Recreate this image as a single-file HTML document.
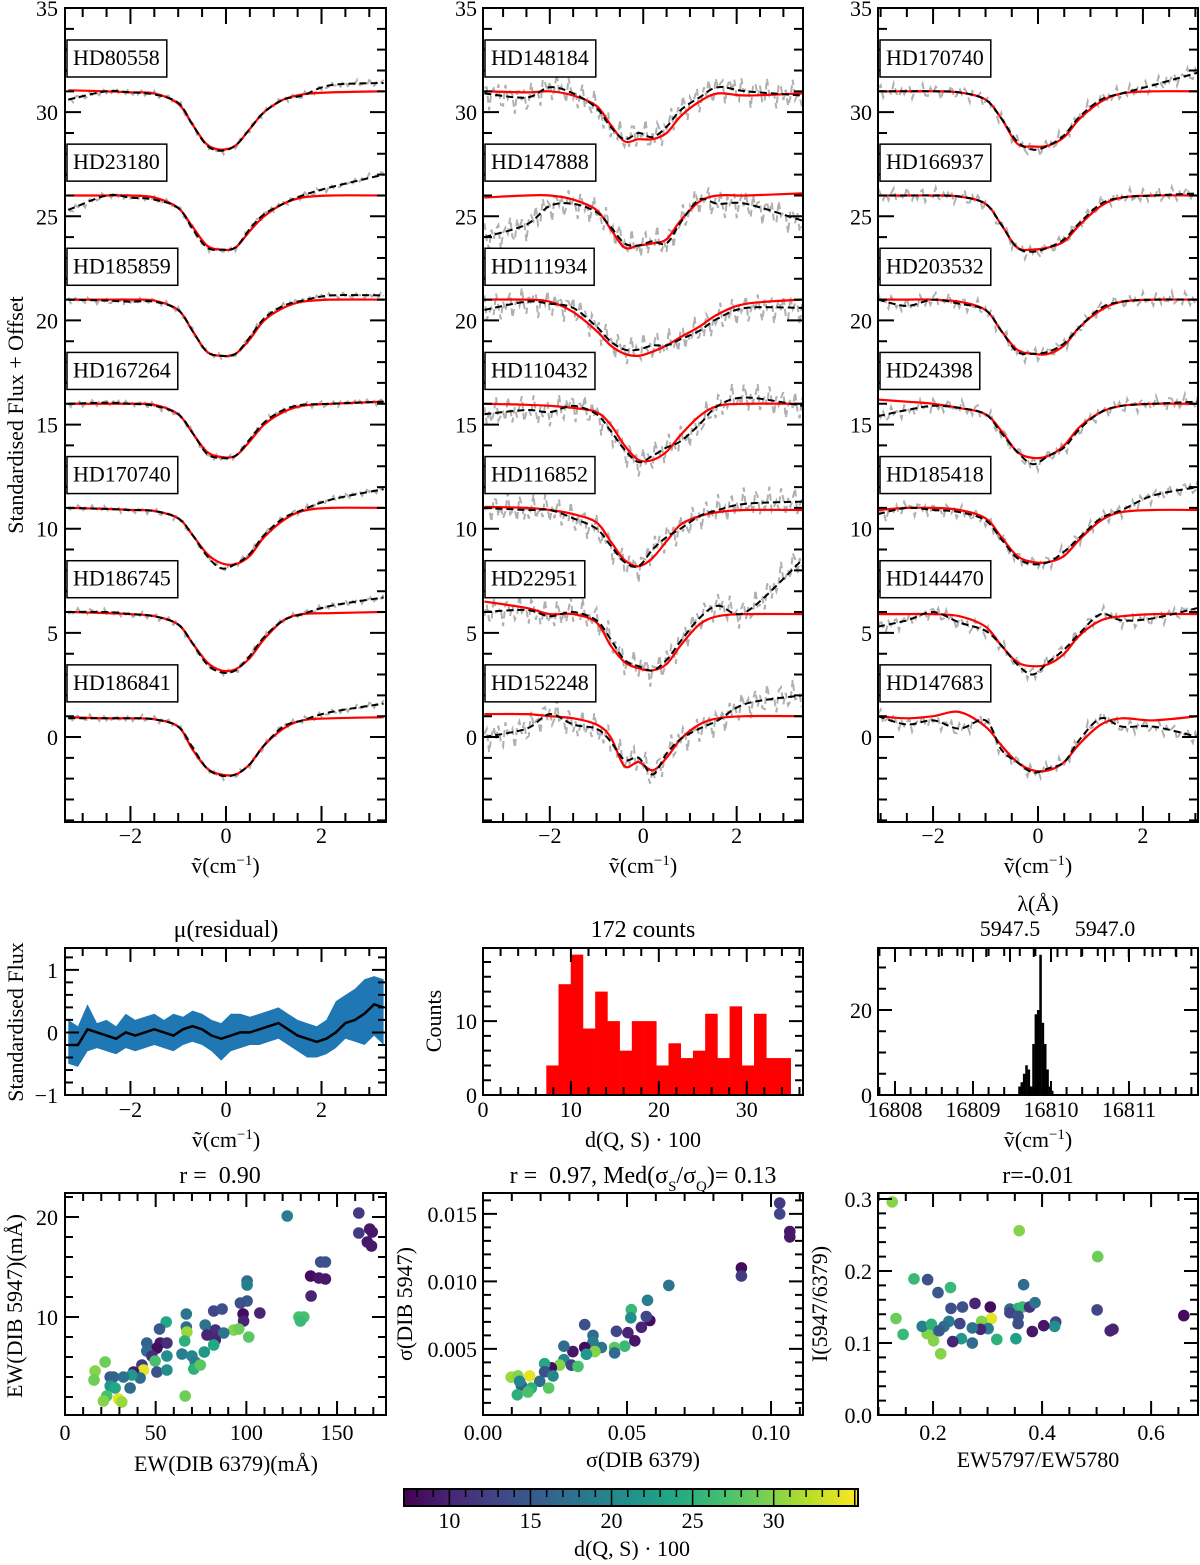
<!DOCTYPE html>
<html><head><meta charset="utf-8">
<style>
html,body{margin:0;padding:0;background:#fff;}
svg text{font-family:"Liberation Serif",serif;fill:#000;white-space:pre;}
</style></head>
<body>
<svg id="fig" xmlns="http://www.w3.org/2000/svg" width="1200" height="1560" viewBox="0 0 1200 1560">
<rect x="0" y="0" width="1200" height="1560" fill="#fff"/>
<defs>
<clipPath id="cp0"><rect x="65" y="8" width="321" height="814"/></clipPath>
<clipPath id="cp1"><rect x="483" y="8" width="320" height="814"/></clipPath>
<clipPath id="cp2"><rect x="878" y="8" width="320" height="814"/></clipPath>
<clipPath id="cpr"><rect x="65" y="948" width="321" height="147"/></clipPath>
</defs>
</svg>
<script>
// ---------- DATA ----------
const starNames0 = ["HD80558","HD23180","HD185859","HD167264","HD170740","HD186745","HD186841"];
const starNames1 = ["HD148184","HD147888","HD111934","HD110432","HD116852","HD22951","HD152248"];
const starNames2 = ["HD170740","HD166937","HD203532","HD24398","HD185418","HD144470","HD147683"];
const offsets = [30,25,20,15,10,5,0];
const xSamples0 = [-3.3,-2.5,-2,-1.5,-1,-0.7,-0.4,-0.1,0.2,0.5,0.8,1.2,1.6,2.2,3.3];
const xSamples1 = [-3.4,-2.5,-2,-1.5,-1,-0.7,-0.4,-0.1,0.2,0.5,0.8,1.2,1.6,2.2,3.4];
const xSamples2 = [-3.05,-2.5,-2,-1.5,-1,-0.7,-0.4,-0.1,0.2,0.5,0.8,1.2,1.6,2.2,3.05];
const fit0 = [
[1.05,1.0,0.95,0.9,0.4,-0.6,-1.55,-1.8,-1.6,-0.8,0,0.6,0.85,0.95,1.0],
[1.0,1.0,1.0,0.9,0.4,-0.5,-1.4,-1.6,-1.5,-0.7,0,0.6,0.9,1.0,1.0],
[1,1,1,0.95,0.5,-0.5,-1.5,-1.7,-1.6,-0.9,0,0.6,0.9,1,1.0],
[1,1,1,0.95,0.5,-0.4,-1.3,-1.55,-1.5,-0.8,0,0.6,0.9,1,1.1],
[1,0.95,0.9,0.85,0.5,-0.3,-1.2,-1.65,-1.7,-1.3,-0.4,0.4,0.85,1.0,1.0],
[1,0.95,0.9,0.8,0.4,-0.5,-1.4,-1.8,-1.75,-1.2,-0.3,0.6,0.9,0.95,1.0],
[0.95,0.9,0.9,0.85,0.5,-0.6,-1.5,-1.8,-1.8,-1.3,-0.4,0.4,0.8,0.9,0.95]];
const obs0 = [
[0.6,1.0,0.95,0.85,0.45,-0.6,-1.6,-1.85,-1.6,-0.8,0,0.6,0.8,1.3,1.4],
[0.3,1.0,0.9,0.8,0.4,-0.6,-1.5,-1.6,-1.5,-0.6,0.1,0.6,1.0,1.4,2.0],
[1,0.95,0.9,0.9,0.5,-0.5,-1.5,-1.7,-1.6,-0.8,0.1,0.7,0.95,1.2,1.2],
[1,1.05,1.0,0.9,0.5,-0.4,-1.4,-1.6,-1.5,-0.7,0.1,0.7,0.95,1,1.1],
[1,0.95,0.9,0.85,0.5,-0.3,-1.3,-1.9,-1.7,-1.2,-0.3,0.5,0.9,1.4,1.9],
[1,1.0,0.9,0.8,0.4,-0.5,-1.5,-1.9,-1.8,-1.1,-0.2,0.6,0.9,1.3,1.7],
[0.9,0.9,0.9,0.85,0.5,-0.5,-1.5,-1.85,-1.8,-1.3,-0.4,0.5,0.8,1.2,1.6]];
const fit1 = [
[1.0,0.95,1.0,0.8,0.3,-0.6,-1.4,-1.3,-1.3,-1.0,-0.2,0.5,0.9,0.8,0.9],
[0.9,1.0,1.0,0.8,0.3,-0.6,-1.5,-1.4,-1.3,-1.1,-0.2,0.7,1.0,1.0,1.1],
[1.0,1.0,0.9,0.4,-0.5,-1.2,-1.6,-1.7,-1.5,-1.2,-0.8,-0.3,0.3,0.8,1.0],
[1.0,0.95,0.9,0.8,0.6,0.0,-1.0,-1.7,-1.7,-1.3,-0.5,0.4,0.9,1.0,1.0],
[1.05,1.0,0.9,0.7,0.3,-0.6,-1.5,-1.8,-1.4,-0.6,0.2,0.6,0.8,0.9,0.9],
[1.5,1.2,0.9,0.9,0.5,-0.6,-1.4,-1.7,-1.8,-1.5,-0.6,0.4,0.8,0.9,0.9],
[1.1,1.1,1.0,0.9,0.6,0.0,-1.4,-1.2,-1.6,-1.0,-0.1,0.6,0.9,1.0,1.0]];
const obs1 = [
[0.9,0.7,1.2,0.9,0.2,-0.7,-1.3,-1.0,-1.2,-0.7,0.1,0.7,1.2,1.0,0.8],
[-1.0,-0.4,0.5,0.6,0.2,-0.5,-1.3,-1.4,-1.2,-1.3,-0.3,0.8,0.6,0.6,-0.2],
[0.5,0.9,0.8,0.6,-0.3,-1.0,-1.4,-1.4,-1.2,-1.2,-0.9,-0.5,0.1,0.6,0.6],
[0.5,0.7,0.6,0.9,0.5,-0.3,-1.2,-1.8,-1.5,-1.1,-0.8,0.0,0.9,1.3,0.9],
[1.0,0.9,0.9,0.5,0.0,-0.8,-1.6,-1.8,-1.0,-0.4,0.0,0.6,0.9,1.2,1.3],
[1.0,1.1,0.8,1.0,0.6,-0.3,-1.3,-1.6,-1.8,-1.3,-0.4,0.7,1.3,1.0,3.5],
[0.0,0.4,1.1,0.6,0.4,-0.2,-1.1,-1.0,-1.8,-0.8,-0.1,0.4,0.8,1.6,2.0]];
const fit2 = [
[1,1,1,0.95,0.6,-0.3,-1.5,-1.65,-1.6,-1.2,-0.3,0.5,0.9,1.0,1.0],
[1,1,1,0.95,0.6,-0.4,-1.5,-1.6,-1.5,-1.2,-0.4,0.5,0.9,1.0,1.0],
[1,1,1,0.9,0.5,-0.5,-1.4,-1.6,-1.6,-1.2,-0.3,0.5,0.9,1.0,1.0],
[1.2,1.1,1.0,0.8,0.5,-0.3,-1.3,-1.6,-1.5,-1.0,-0.1,0.6,0.9,1.0,1.0],
[0.9,1.0,1.0,0.9,0.5,-0.4,-1.3,-1.6,-1.6,-1.3,-0.5,0.4,0.8,0.9,0.9],
[0.9,0.9,0.9,0.8,0.3,-0.6,-1.4,-1.6,-1.5,-1.0,-0.1,0.6,0.8,0.9,0.9],
[1.0,0.9,1.0,1.2,0.5,-0.4,-1.2,-1.6,-1.6,-1.2,-0.3,0.6,0.9,0.8,1.0]];
const obs2 = [
[1,1,1,0.95,0.6,-0.3,-1.4,-1.8,-1.6,-1.1,-0.2,0.6,0.9,1.3,1.9],
[1,1,1,0.95,0.6,-0.4,-1.5,-1.7,-1.5,-1.1,-0.3,0.6,0.9,1.0,1.1],
[1,0.7,1,0.8,0.5,-0.5,-1.5,-1.6,-1.5,-1.1,-0.3,0.6,0.9,1.0,1.0],
[0.4,0.7,0.9,0.8,0.5,-0.4,-1.3,-1.9,-1.5,-1.1,-0.2,0.6,0.9,1.0,1.1],
[0.7,1.0,0.9,0.8,0.4,-0.5,-1.4,-1.7,-1.6,-1.1,-0.4,0.5,0.9,1.6,2.0],
[0.3,0.6,1.0,0.5,0.1,-0.6,-1.5,-2.0,-1.4,-0.8,0.0,0.9,0.6,0.7,1.2],
[1.0,0.6,0.8,0.4,0.8,-0.6,-1.2,-1.7,-1.5,-1.2,-0.1,0.9,0.5,0.5,0.0]];

const resX = [-3.3,-3.1,-2.9,-2.7,-2.5,-2.3,-2.1,-1.9,-1.7,-1.5,-1.3,-1.1,-0.9,-0.7,-0.5,-0.3,-0.1,0.1,0.3,0.5,0.7,0.9,1.1,1.3,1.5,1.7,1.9,2.1,2.3,2.5,2.7,2.9,3.1,3.3];
const resMean = [-0.2,-0.2,0.05,0,-0.05,-0.1,0,-0.05,0,0.05,0,-0.05,0.05,0.1,0.05,-0.05,-0.1,-0.05,0,0,0.05,0.1,0.15,0.05,-0.05,-0.1,-0.15,-0.1,0,0.15,0.2,0.3,0.45,0.4];
const resUpper = [0.2,0.1,0.45,0.15,0.2,0.1,0.3,0.2,0.25,0.3,0.2,0.3,0.25,0.35,0.3,0.2,0.15,0.3,0.3,0.25,0.3,0.35,0.4,0.3,0.2,0.15,0.1,0.2,0.5,0.6,0.7,0.85,0.9,0.85];
const resLower = [-0.5,-0.55,-0.3,-0.25,-0.3,-0.35,-0.25,-0.3,-0.25,-0.2,-0.25,-0.3,-0.2,-0.15,-0.2,-0.3,-0.45,-0.3,-0.25,-0.2,-0.2,-0.15,-0.1,-0.2,-0.3,-0.4,-0.4,-0.35,-0.25,-0.1,-0.15,-0.2,-0.05,-0.2];

const histStart = 7.2, histWidth = 1.39;
const histCounts = [4,15,19,9,14,10,6,10,10,4,7,5,6,11,5,12,4,11,5,5];
const peakStart = 16809.58, peakWidth = 0.03;
const peakCounts = [2,3,5,7,6,2,12,19,20,33,17,12,6,2,1];

const ewX = [122.5,162,162,168,169.4,166.7,169,141,143.6,135.4,140,143.6,135.7,129,131.7,129.8,100.4,100.4,100.4,96.7,98.2,98.5,107.4,82,86.6,101.3,93,95.8,77.3,82.9,87.5,82.9,82,78.3,66.9,66.9,67.2,66,64.5,70,71.8,71,74.6,76.8,66.3,55.8,52.1,45.1,52.5,56.2,50.7,45.1,47.9,56.2,49.7,42.4,50.7,56.2,43.3,37.8,41.4,35.9,36.8,32.2,24.9,26.7,24.9,27.6,22.1,16.6,16,23,21.2,29.5,31.3];
const ewY = [20.1,20.4,18.4,18.8,18.5,17.5,17.1,15.5,15.5,14.1,13.9,13.8,12.1,10,10,9.6,13.6,13.2,11.6,11.4,10.3,9.6,10.4,10.6,10.8,8.0,8.7,8.8,9.2,8.7,8.4,7.7,7.2,8.2,10.3,9.0,8.5,7.6,6.3,6.1,5.5,4.8,5.2,6.5,2.1,9.5,8.8,7.4,7.4,7.4,6.9,6.6,6.1,6.1,5.6,5.2,4.5,4.7,4.7,4.5,3.9,2.9,4.2,4.0,4.0,4.0,3.1,2.9,5.5,4.6,3.7,2.1,1.6,1.8,1.5];
const ewC = [19,12,12,9,9,9,9,14,14,8,9,9,10,27,27,26,17,19,15,14,8,10,10,13,14,28,30,29,18,11,18,10,24,10,18,17,31,25,19,20,19,25,28,22,29,24,15,16,9,11,8,17,11,21,27,12,14,21,34,9,17,17,22,18,15,16,22,24,29,30,29,27,30,34,31];

const sgX = [0.1030,0.1030,0.1065,0.1065,0.0897,0.0897,0.0645,0.0571,0.0515,0.0513,0.0579,0.0567,0.0550,0.0463,0.0503,0.0527,0.0492,0.0457,0.0457,0.0353,0.0382,0.0382,0.0411,0.0353,0.0388,0.0359,0.0312,0.0281,0.0281,0.0307,0.0330,0.0266,0.0237,0.0214,0.0214,0.0243,0.0197,0.0228,0.0162,0.0098,0.0121,0.0133,0.0127,0.0168,0.0119,0.0156];
const sgY = [0.0158,0.0150,0.0137,0.0133,0.0110,0.0104,0.0097,0.0086,0.0079,0.0073,0.0071,0.0074,0.0066,0.0063,0.0062,0.0056,0.0052,0.0051,0.0047,0.0068,0.0060,0.0055,0.0051,0.0051,0.0048,0.0046,0.0048,0.0052,0.0042,0.0038,0.0037,0.0038,0.0036,0.0039,0.0033,0.0030,0.0026,0.0021,0.0030,0.0029,0.0030,0.0023,0.0026,0.0021,0.0016,0.0018];
const sgC = [12,13,9,9,8,12,18,19,26,21,8,13,10,13,10,9,26,28,17,14,17,19,18,8,30,22,9,17,20,13,27,30,8,24,14,20,17,28,34,31,30,15,20,25,25,27];

const rtX = [0.125,0.358,0.502,0.165,0.190,0.209,0.232,0.366,0.233,0.254,0.277,0.305,0.341,0.356,0.364,0.377,0.387,0.341,0.356,0.356,0.501,0.660,0.530,0.525,0.425,0.423,0.403,0.382,0.352,0.317,0.307,0.289,0.301,0.287,0.272,0.249,0.229,0.220,0.199,0.189,0.201,0.180,0.197,0.211,0.252,0.272,0.236,0.145,0.132,0.214];
const rtY = [0.296,0.256,0.220,0.189,0.188,0.170,0.177,0.181,0.148,0.150,0.155,0.150,0.147,0.148,0.150,0.150,0.156,0.142,0.137,0.127,0.146,0.138,0.119,0.117,0.129,0.123,0.124,0.116,0.106,0.105,0.134,0.130,0.120,0.119,0.121,0.127,0.130,0.123,0.116,0.113,0.103,0.123,0.126,0.117,0.106,0.100,0.102,0.112,0.134,0.085];
const rtC = [30,30,29,26,14,15,26,17,14,14,10,8,17,25,26,11,18,13,14,14,13,8,10,10,13,21,9,9,23,25,34,30,19,10,18,13,19,17,27,30,30,19,25,15,22,17,10,26,29,30];

const cbTicks = [10,15,20,25,30];

// ---------- HELPERS ----------
const NS = "http://www.w3.org/2000/svg";
const svg = document.getElementById('fig');
function mk(tag, attrs, parent){
  const e = document.createElementNS(NS, tag);
  for (const k in attrs) e.setAttribute(k, attrs[k]);
  (parent || svg).appendChild(e);
  return e;
}
function lin(d0,d1,p0,p1){ return v => p0 + (v-d0)*(p1-p0)/(d1-d0); }
function range(a,b,s){ const r=[]; for(let v=a; v<=b+1e-9; v+=s) r.push(Math.round(v/s)*s); return r; }
function text(x,y,s,anchor,size,name,rot){
  const t = mk('text',{x:x,y:y,'text-anchor':anchor||'middle','font-size':size||22});
  if (rot) t.setAttribute('transform','rotate(-90 '+x+' '+y+')');
  t.innerHTML = s;
  
  
  return t;
}
function fmtMinus(v){ return String(v).replace('-','\u2212'); }
const VIR = ['#440154','#482475','#414487','#355f8d','#2a788e','#21918c','#22a884','#44bf70','#7ad151','#bddf26','#fde725'];
function hex2(h){ return [parseInt(h.slice(1,3),16),parseInt(h.slice(3,5),16),parseInt(h.slice(5,7),16)]; }
function viridis(t){
  t=Math.max(0,Math.min(1,t)); const f=t*10, i=Math.min(9,Math.floor(f)), r=f-i;
  const a=hex2(VIR[i]), b=hex2(VIR[i+1]);
  return 'rgb('+a.map((c,j)=>Math.round(c+(b[j]-c)*r)).join(',')+')';
}
const cmin=7.2, cmax=35.2;
function cmap(c){ return viridis((c-cmin)/(cmax-cmin)); }

function axes(name, x0,y0,x1,y1, xs, ys, xMaj, xMin, yMaj, yMin, L){
  L = L || 14; const l = Math.round(L*0.55);
  const g = mk('g',{});
  
  
  let d='';
  const xin = v => v>=Math.min(xs.d0,xs.d1)-1e-9 && v<=Math.max(xs.d0,xs.d1)+1e-9;
  const yin = v => v>=Math.min(ys.d0,ys.d1)-1e-9 && v<=Math.max(ys.d0,ys.d1)+1e-9;
  xMin.forEach(v=>{ if(!xin(v))return; const p=xs(v); d+=`M${p},${y1}V${y1-l}M${p},${y0}V${y0+l}`; });
  xMaj.forEach(v=>{ if(!xin(v))return; const p=xs(v); d+=`M${p},${y1}V${y1-L}M${p},${y0}V${y0+L}`; });
  yMin.forEach(v=>{ if(!yin(v))return; const p=ys(v); d+=`M${x0},${p}H${x0+l}M${x1},${p}H${x1-l}`; });
  yMaj.forEach(v=>{ if(!yin(v))return; const p=ys(v); d+=`M${x0},${p}H${x0+L}M${x1},${p}H${x1-L}`; });
  mk('path',{d:d,stroke:'#000','stroke-width':2,fill:'none'},g);
  mk('rect',{x:x0,y:y0,width:x1-x0,height:y1-y0,fill:'none',stroke:'#000','stroke-width':2},g);
  return g;
}
function scale(d0,d1,p0,p1){ const f=lin(d0,d1,p0,p1); f.d0=d0; f.d1=d1; return f; }
function smooth(pts){
  let d=`M${pts[0][0].toFixed(1)},${pts[0][1].toFixed(1)}`;
  for(let i=0;i<pts.length-1;i++){
    const p0=pts[Math.max(0,i-1)],p1=pts[i],p2=pts[i+1],p3=pts[Math.min(pts.length-1,i+2)];
    const c1=[p1[0]+(p2[0]-p0[0])/6,p1[1]+(p2[1]-p0[1])/6];
    const c2=[p2[0]-(p3[0]-p1[0])/6,p2[1]-(p3[1]-p1[1])/6];
    d+=`C${c1[0].toFixed(1)},${c1[1].toFixed(1)} ${c2[0].toFixed(1)},${c2[1].toFixed(1)} ${p2[0].toFixed(1)},${p2[1].toFixed(1)}`;
  }
  return d;
}
function catmull(xsArr, ysArr, x){
  let i=0; while(i<xsArr.length-2 && x>xsArr[i+1]) i++;
  const t=(x-xsArr[i])/(xsArr[i+1]-xsArr[i]);
  const y0=ysArr[Math.max(0,i-1)],y1=ysArr[i],y2=ysArr[i+1],y3=ysArr[Math.min(ysArr.length-1,i+2)];
  return 0.5*((2*y1)+(-y0+y2)*t+(2*y0-5*y1+4*y2-y3)*t*t+(-y0+3*y1-3*y2+y3)*t*t*t);
}
const NU = 'ṽ(cm<tspan baseline-shift="super" font-size="15">−1</tspan>)';

// ---------- TOP PANELS ----------
const cols = [
 {x0:65,x1:386,xs:scale(-3.37,3.35,65,386),X:xSamples0,fit:fit0,obs:obs0,names:starNames0,clip:'cp0',jit:0.18,ylx:58},
 {x0:483,x1:803,xs:scale(-3.43,3.42,483,803),X:xSamples1,fit:fit1,obs:obs1,names:starNames1,clip:'cp1',jit:0.8,ylx:477},
 {x0:878,x1:1198,xs:scale(-3.05,3.05,878,1198),X:xSamples2,fit:fit2,obs:obs2,names:starNames2,clip:'cp2',jit:0.4,ylx:872}
];
const ysTop = scale(-4.08,35,822,8);
cols.forEach((c,ci)=>{
  const g = mk('g',{'clip-path':'url(#'+c.clip+')'});
  
  
  offsets.forEach((off,si)=>{
    const gp=[]; let k=0;
    for(let x=c.X[0]; x<=c.X[c.X.length-1]; x+=0.05){
      const v=catmull(c.X,c.obs[si],x)+c.jit*(Math.sin(k*2.3+si)*0.6+Math.sin(k*5.1+ci)*0.4);
      gp.push([c.xs(x),ysTop(off+v)].map(n=>n.toFixed(1)).join(',')); k++;
    }
    const gl = mk('polyline',{points:gp.join(' '),fill:'none',stroke:'#b0b0b0','stroke-width':2,'stroke-dasharray':'7,4'},g);
    
    
    const rp = c.X.map((x,i)=>[c.xs(x),ysTop(off+c.fit[si][i])]);
    const rl = mk('path',{d:smooth(rp),fill:'none',stroke:'#ff0000','stroke-width':2.2},g);
    
    
    const bp = c.X.map((x,i)=>[c.xs(x),ysTop(off+c.obs[si][i])]);
    const bl = mk('path',{d:smooth(bp),fill:'none',stroke:'#000','stroke-width':2,'stroke-dasharray':'7,4'},g);
    
    
  });
  axes('spectra-axes-'+(ci+1), c.x0,8,c.x1,822, c.xs, ysTop, range(-4,4,2), range(-4,4,0.5), range(0,35,5), range(-4,35,1), 16);
  offsets.forEach((off,si)=>{
    const cy = ysTop(off+2.6);
    const t = text(c.x0+8, cy+7, c.names[si], 'start', 22, 'star-label-'+c.names[si]);
    const w = t.getComputedTextLength ? t.getComputedTextLength() : 90;
    const r = mk('rect',{x:c.x0+2,y:cy-18,width:w+13,height:37,fill:'#fff',stroke:'#000','stroke-width':1.5});
    
    
    svg.insertBefore(r,t);
  });
  [0,5,10,15,20,25,30,35].forEach(v=>text(c.ylx, ysTop(v)+8, String(v),'end',22,'y-tick-label'));
  [-2,0,2].forEach(v=>text(c.xs(v), 843, fmtMinus(v),'middle',22,'x-tick-label'));
  text((c.x0+c.x1)/2, 873, NU, 'middle', 22, 'x-axis-title');
});
text(23, 415, 'Standardised Flux + Offset', 'middle', 22, 'y-axis-title', true);

// ---------- RESIDUAL ----------
(function(){
  const xs = scale(-3.37,3.35,65,386), ys = scale(-1,1.35,1095,948);
  const g = mk('g',{'clip-path':'url(#cpr)'});
  let d='M'+resX.map((x,i)=>xs(x).toFixed(1)+','+ys(resUpper[i]).toFixed(1)).join('L');
  for(let i=resX.length-1;i>=0;i--) d+='L'+xs(resX[i]).toFixed(1)+','+ys(resLower[i]).toFixed(1);
  const band = mk('path',{d:d+'Z',fill:'#1f77b4',stroke:'none'},g);
  
  
  const ml = mk('polyline',{points:resX.map((x,i)=>xs(x).toFixed(1)+','+ys(resMean[i]).toFixed(1)).join(' '),fill:'none',stroke:'#000','stroke-width':2.5},g);
  
  
  axes('residual-axes',65,948,386,1095,xs,ys,range(-4,4,2),range(-4,4,0.5),[-1,0,1],range(-1,1.4,0.2),14);
  [1,0,-1].forEach(v=>text(58, ys(v)+8, fmtMinus(v),'end',22,'y-tick-label'));
  [-2,0,2].forEach(v=>text(xs(v),1117,fmtMinus(v),'middle',22,'x-tick-label'));
  text(226, 937, 'μ(residual)', 'middle', 24, 'residual-title');
  text(226, 1147, NU, 'middle', 22, 'x-axis-title');
  text(23, 1022, 'Standardised Flux', 'middle', 22, 'y-axis-title', true);
})();

// ---------- HISTOGRAM ----------
(function(){
  const xs = scale(0,36.4,483,803), ys = scale(0,19.9,1095,948);
  histCounts.forEach((n,i)=>{
    const a=histStart+i*histWidth;
    const r = mk('rect',{x:xs(a),y:ys(n),width:xs(a+histWidth)-xs(a)+0.3,height:ys(0)-ys(n),fill:'#ff0000'});
    
    
  });
  axes('histogram-axes',483,948,803,1095,xs,ys,range(0,30,10),range(0,36,2),[0,10],range(0,18,2),14);
  [0,10].forEach(v=>text(477, ys(v)+8, String(v),'end',22,'y-tick-label'));
  [0,10,20,30].forEach(v=>text(xs(v),1117,String(v),'middle',22,'x-tick-label'));
  text(643, 937, '172 counts', 'middle', 24, 'histogram-title');
  text(643, 1147, 'd(Q, S) · 100', 'middle', 22, 'x-axis-title');
  text(441, 1021, 'Counts', 'middle', 22, 'y-axis-title', true);
})();

// ---------- PEAK HISTOGRAM ----------
(function(){
  const xs = scale(16807.782,16811.885,878,1198), ys = scale(0,34.6,1095,948);
  peakCounts.forEach((n,i)=>{
    const a=peakStart+i*peakWidth;
    const r = mk('rect',{x:xs(a),y:ys(n),width:xs(a+peakWidth)-xs(a)+0.2,height:ys(0)-ys(n),fill:'#000'});
    
    
  });
  axes('peak-histogram-axes',878,948,1198,1095,xs,ys,[16808,16809,16810,16811],range(16807.8,16811.8,0.2),[0,20],range(0,30,5),14);
  const lam = scale(5947.5,5947.0,1010,1105);
  let d='';
  [5947.875,5947.75,5947.625,5947.5,5947.375,5947.25,5947.125,5947.0,5946.875,5946.75,5946.625,5946.5,5946.375].forEach(v=>{const p=lam(v); if(p>880&&p<1196) d+=`M${p},948V${(Math.round(v*1000))%500===0?962:957}`;});
  const ta = mk('path',{d:d,stroke:'#000','stroke-width':2});
  
  
  text(1010, 936, '5947.5', 'middle', 22, 'top-tick-label');
  text(1105, 936, '5947.0', 'middle', 22, 'top-tick-label');
  text(1038, 911, 'λ(Å)', 'middle', 22, 'top-axis-title');
  [0,20].forEach(v=>text(872, ys(v)+8, String(v),'end',22,'y-tick-label'));
  [16808,16809,16810,16811].forEach(v=>text(xs(v),1117,String(v),'middle',22,'x-tick-label'));
  text(1038, 1147, NU, 'middle', 22, 'x-axis-title');
})();

// ---------- SCATTERS ----------
function scatter(name, X, Y, C, xs, ys){
  X.forEach((x,i)=>{
    const c = mk('circle',{cx:xs(x).toFixed(1),cy:ys(Y[i]).toFixed(1),r:5.8,fill:cmap(C[i])});
    
    
  });
}
(function(){
  const xs = scale(0,177,65,386), ys = scale(0.2,22.4,1415,1193);
  scatter('ew-point', ewX, ewY, ewC, xs, ys);
  axes('ew-axes',65,1193,386,1415,xs,ys,[0,50,100,150],range(0,170,10),[10,20],range(2,22,2),14);
  [10,20].forEach(v=>text(58, ys(v)+8, String(v),'end',22,'y-tick-label'));
  [0,50,100,150].forEach(v=>text(xs(v),1440,String(v),'middle',22,'x-tick-label'));
  text(220, 1183, 'r =  0.90', 'middle', 24, 'ew-title');
  text(226, 1471, 'EW(DIB 6379)(mÅ)', 'middle', 22, 'x-axis-title');
  text(22, 1306, 'EW(DIB 5947)(mÅ)', 'middle', 22, 'y-axis-title', true);
})();
(function(){
  const xs = scale(0,0.1111,483,803), ys = scale(0.0001,0.01655,1415,1193);
  scatter('sigma-point', sgX, sgY, sgC, xs, ys);
  axes('sigma-axes',483,1193,803,1415,xs,ys,[0,0.05,0.1],range(0,0.11,0.01),[0.005,0.01,0.015],range(0.001,0.016,0.001),14);
  [['0.005',0.005],['0.010',0.01],['0.015',0.015]].forEach(p=>text(477, ys(p[1])+8, p[0],'end',22,'y-tick-label'));
  [['0.00',0],['0.05',0.05],['0.10',0.1]].forEach(p=>text(xs(p[1]),1440,p[0],'middle',22,'x-tick-label'));
  text(643, 1183, 'r =  0.97, Med(σ<tspan baseline-shift="sub" font-size="15">S</tspan>/σ<tspan baseline-shift="sub" font-size="15">Q</tspan>)= 0.13', 'middle', 24, 'sigma-title');
  text(643, 1467, 'σ(DIB 6379)', 'middle', 22, 'x-axis-title');
  text(412, 1304, 'σ(DIB 5947)', 'middle', 22, 'y-axis-title', true);
})();
(function(){
  const xs = scale(0.099,0.686,878,1198), ys = scale(0,0.3083,1415,1193);
  scatter('ratio-point', rtX, rtY, rtC, xs, ys);
  axes('ratio-axes',878,1193,1198,1415,xs,ys,[0.2,0.4,0.6],range(0.1,0.7,0.05),[0,0.1,0.2,0.3],range(0,0.3,0.02),14);
  [['0.0',0],['0.1',0.1],['0.2',0.2],['0.3',0.3]].forEach(p=>text(872, ys(p[1])+8, p[0],'end',22,'y-tick-label'));
  [['0.2',0.2],['0.4',0.4],['0.6',0.6]].forEach(p=>text(xs(p[1]),1440,p[0],'middle',22,'x-tick-label'));
  text(1038, 1183, 'r=-0.01', 'middle', 24, 'ratio-title');
  text(1038, 1467, 'EW5797/EW5780', 'middle', 22, 'x-axis-title');
  text(827, 1304, 'I(5947/6379)', 'middle', 22, 'y-axis-title', true);
})();

// ---------- COLORBAR ----------
(function(){
  const xs = scale(cmin,cmax,404,858);
  const g = mk('g',{});
  
  
  for(let v=cmin; v<cmax; v+=0.25){
    mk('rect',{x:xs(v),y:1489,width:xs(v+0.25)-xs(v)+0.4,height:17,fill:cmap(v+0.125)},g);
  }
  let d='';
  for(let v=8; v<=35; v++){ const p=xs(v); d+= (v%5===0) ? `M${p},1489V1506` : `M${p},1489V1497`; }
  mk('path',{d:d,stroke:'#000','stroke-width':1.5},g);
  mk('rect',{x:404,y:1489,width:454,height:17,fill:'none',stroke:'#000','stroke-width':2},g);
  cbTicks.forEach(v=>text(xs(v),1528,String(v),'middle',22,'colorbar-tick-label'));
  text(632, 1556, 'd(Q, S) · 100', 'middle', 22, 'colorbar-title');
})();
</script>
</body></html>
